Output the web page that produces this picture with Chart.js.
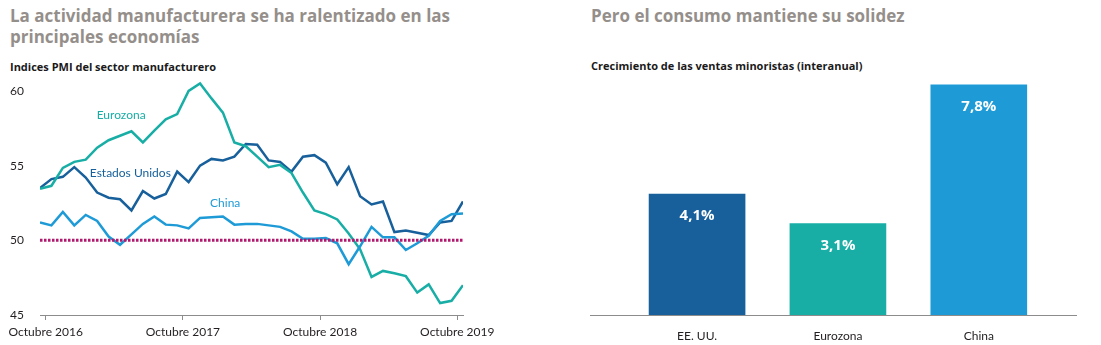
<!DOCTYPE html>
<html>
<head>
<meta charset="utf-8">
<script src="https://cdn.jsdelivr.net/npm/chart.js@4"></script>
<style>
  body { margin: 0; background: #fff; width: 1101px; height: 345px; overflow: hidden; font-family: Lato, "Open Sans", sans-serif; }
  .titulo { position: absolute; font-family: "Open Sans", sans-serif; font-weight: bold; font-size: 17px; line-height: 21px; color: #958f8b; white-space: nowrap; }
  .subtitulo { position: absolute; font-family: "Open Sans", sans-serif; font-weight: bold; font-size: 11px; color: #1a1a1a; white-space: nowrap; }
  .caja { position: absolute; }
</style>
</head>
<body>
<div class="titulo" style="left:10px; top:5px;">La actividad manufacturera se ha ralentizado en las<br>principales economías</div>
<div class="subtitulo" style="left:10px; top:59px;">Indices PMI del sector manufacturero</div>
<div class="titulo" style="left:591px; top:5px;">Pero el consumo mantiene su solidez</div>
<div class="subtitulo" style="left:591px; top:58px;">Crecimiento de las ventas minoristas (interanual)</div>

<div class="caja" style="left:0; top:70px; width:500px; height:275px;"><canvas id="ChartPMI"></canvas></div>
<div class="caja" style="left:580px; top:70px; width:521px; height:275px;"><canvas id="ChartVentas"></canvas></div>

<script>
// Indices PMI mensuales, de septiembre 2016 a octubre 2019
const eurozona = [53.45, 53.65, 54.85, 55.25, 55.4, 56.2, 56.7, 57.0, 57.3, 56.55,
  57.35, 58.1, 58.45, 60.0, 60.5, 59.5, 58.55, 56.55, 56.3, 55.6,
  54.9, 55.05, 54.5, 53.2, 52.0, 51.75, 51.4, 50.45, 49.4, 47.55,
  47.95, 47.8, 47.6, 46.5, 47.05, 45.8, 45.95, 47.0];
const estadosUnidos = [53.5, 54.1, 54.25, 54.9, 54.2, 53.2, 52.85, 52.75, 52.0, 53.3,
  52.8, 53.1, 54.6, 53.9, 55.0, 55.45, 55.35, 55.6, 56.45, 56.4,
  55.35, 55.25, 54.6, 55.6, 55.7, 55.2, 53.75, 54.9, 52.95, 52.4,
  52.6, 50.55, 50.65, 50.5, 50.35, 51.2, 51.3, 52.6];
const china = [51.2, 51.0, 51.9, 51.0, 51.7, 51.3, 50.25, 49.7, 50.4, 51.1,
  51.6, 51.05, 51.0, 50.8, 51.5, 51.55, 51.6, 51.05, 51.1, 51.1,
  51.0, 50.9, 50.6, 50.1, 50.1, 50.15, 49.8, 48.4, 49.6, 50.9,
  50.2, 50.2, 49.35, 49.8, 50.3, 51.3, 51.75, 51.8];
const lineaExpansion = 50;

// Etiquetas del eje X (posicion en meses desde el primer dato)
const posTicksMes = [0.5, 12.5, 24.5, 36.5];
const etiquetasMes = ['Octubre 2016', 'Octubre 2017', 'Octubre 2018', 'Octubre 2019'];
const ticksPMI = [45, 50, 55, 60];

// Nombres de las series junto a cada linea: [texto, mes, valor]
const nombresSeries = [
  ['Eurozona', 7.1, 58.4],
  ['Estados Unidos', 7.9, 54.47],
  ['China', 16.2, 52.47]
];

// Ventas minoristas
const paises = ['EE. UU.', 'Eurozona', 'China'];
const ventas = [4.1, 3.1, 7.8];

const azulOscuro = '#17609b';
const verde = '#18aea6';
const azulClaro = '#1e9bd7';
const colorTexto = '#231f20';

function puntos(valores) {
  return valores.map(function (v, i) { return { x: i, y: v }; });
}

// Sin margenes extra por las etiquetas de los extremos
function sinPadding(axis) {
  axis.paddingLeft = 0;
  axis.paddingRight = 0;
  axis.paddingTop = 0;
  axis.paddingBottom = 0;
}

// Dibuja los nombres de las series sobre el grafico de lineas
const pluginNombres = {
  id: 'nombres',
  afterDatasetsDraw(chart) {
    const ctx = chart.ctx;
    const colores = [verde, azulOscuro, azulClaro];
    ctx.save();
    ctx.font = '12px Lato';
    ctx.textAlign = 'center';
    ctx.textBaseline = 'middle';
    nombresSeries.forEach(function (n, i) {
      ctx.fillStyle = colores[i];
      ctx.fillText(n[0], chart.scales.x.getPixelForValue(n[1]), chart.scales.y.getPixelForValue(n[2]));
    });
    ctx.restore();
  }
};

const ChartPMI = new Chart(
  document.getElementById('ChartPMI'),
  {
    type: 'line',
    data: {
      datasets: [
        {
          data: [{ x: 0, y: lineaExpansion }, { x: eurozona.length - 1, y: lineaExpansion }],
          borderColor: '#b3176e',
          borderWidth: 3,
          borderDash: [2.5, 1.5],
          pointRadius: 0
        },
        { label: 'China', data: puntos(china), borderColor: azulClaro, borderWidth: 2.5, pointRadius: 0, tension: 0 },
        { label: 'Eurozona', data: puntos(eurozona), borderColor: verde, borderWidth: 2.5, pointRadius: 0, tension: 0 },
        { label: 'Estados Unidos', data: puntos(estadosUnidos), borderColor: azulOscuro, borderWidth: 2.5, pointRadius: 0, tension: 0 }
      ]
    },
    options: {
      responsive: true,
      maintainAspectRatio: false,
      animation: false,
      layout: { padding: { left: 10, right: 37, top: 6, bottom: 0 } },
      plugins: { legend: { display: false }, tooltip: { enabled: false } },
      scales: {
        x: {
          type: 'linear',
          min: 0,
          max: eurozona.length - 1,
          afterBuildTicks: function (axis) { axis.ticks = posTicksMes.map(function (v) { return { value: v }; }); },
          afterFit: function (axis) { axis.height = 30; sinPadding(axis); },
          ticks: {
            color: colorTexto,
            font: { family: 'Lato', size: 12 },
            padding: 5,
            maxRotation: 0,
            autoSkip: false,
            callback: function (v, i) { return etiquetasMes[i]; }
          },
          grid: { drawOnChartArea: false, drawTicks: true, tickLength: 5, color: '#8c8c8c' },
          border: { display: true, color: '#8c8c8c', width: 1 }
        },
        y: {
          min: 45,
          max: 61,
          afterBuildTicks: function (axis) { axis.ticks = ticksPMI.map(function (v) { return { value: v }; }); },
          afterFit: function (axis) { axis.width = 30; sinPadding(axis); },
          ticks: {
            color: colorTexto,
            font: { family: 'Lato', size: 12 },
            crossAlign: 'far'
          },
          grid: { display: false },
          border: { display: false }
        }
      }
    },
    plugins: [pluginNombres]
  }
);

// Valores en blanco dentro de cada barra
const pluginValores = {
  id: 'valores',
  afterDatasetsDraw(chart) {
    const ctx = chart.ctx;
    const meta = chart.getDatasetMeta(0);
    ctx.save();
    ctx.font = 'bold 15px "Open Sans"';
    ctx.fillStyle = '#ffffff';
    ctx.textAlign = 'center';
    ctx.textBaseline = 'middle';
    meta.data.forEach(function (barra, i) {
      ctx.fillText(ventas[i].toFixed(1).replace('.', ',') + '%', barra.x, barra.y + 22);
    });
    ctx.restore();
  }
};

const ChartVentas = new Chart(
  document.getElementById('ChartVentas'),
  {
    type: 'bar',
    data: {
      datasets: [{
        data: ventas.map(function (v, i) { return { x: i, y: v }; }),
        backgroundColor: [azulOscuro, verde, azulClaro],
        barThickness: 96
      }]
    },
    options: {
      responsive: true,
      maintainAspectRatio: false,
      animation: false,
      layout: { padding: { left: 10, right: 25, top: 6, bottom: 0 } },
      plugins: { legend: { display: false }, tooltip: { enabled: false } },
      scales: {
        x: {
          type: 'linear',
          offset: false,
          min: -0.76,
          max: 2.69,
          afterBuildTicks: function (axis) { axis.ticks = paises.map(function (p, i) { return { value: i }; }); },
          afterFit: function (axis) { axis.height = 30; sinPadding(axis); },
          ticks: {
            color: colorTexto,
            font: { family: 'Lato', size: 12 },
            padding: 6,
            callback: function (v, i) { return paises[i]; }
          },
          grid: { display: false, offset: false },
          border: { display: true, color: '#8c8c8c', width: 1 }
        },
        y: {
          display: false,
          min: 0,
          max: 8.1
        }
      }
    },
    plugins: [pluginValores]
  }
);
</script>
</body>
</html>
